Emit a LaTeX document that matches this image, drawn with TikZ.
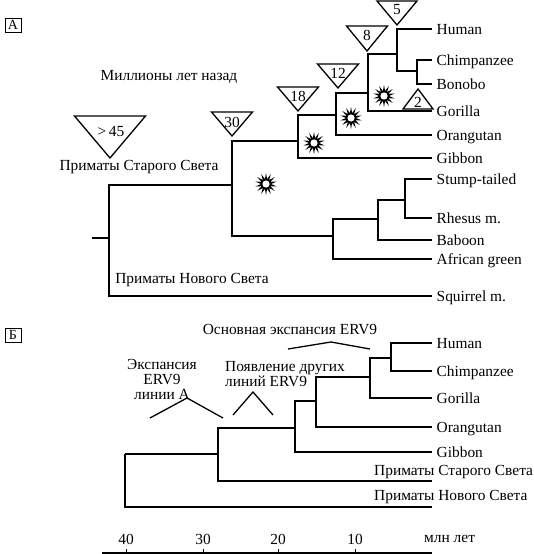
\documentclass[tikz,border=0pt]{standalone}
\usepackage{fontspec}
\setmainfont{Liberation Serif}
\usetikzlibrary{shapes.geometric,calc}

\begin{document}
\begin{tikzpicture}[
  x=1pt, y=-1pt,
  every node/.style={font=\fontsize{15.4}{16}\selectfont, inner sep=0pt},
  branch/.style={line width=1.6pt},
  tri/.style={line width=1.3pt, line join=miter},
  caret/.style={line width=1.3pt},
  leaf/.style={anchor=west, inner xsep=4.5pt, text height=11pt, text depth=0pt},
  panel/.style={draw, line width=0.6pt, minimum width=16pt, minimum height=14pt, font=\fontsize{14}{14}\selectfont},
  burst/.style={star, star points=14, star point ratio=2.2, minimum size=22pt, fill=black, inner sep=0pt,
    path picture={\fill[white] (path picture bounding box.center) circle (3.6pt);}},
  >=latex
]
\useasboundingbox (0,0) rectangle (533,554);

% Panel letters
\node[panel] (pA) at (13,25) {А};
\node[panel] (pB) at (13,335) {Б};

% Panel A: captions
\node (myr) at (169,77) {Миллионы лет назад};
\node (owA) at (139,167) {Приматы Старого Света};
\node (nwA) at (192,280) {Приматы Нового Света};

% Panel A: branch points
\coordinate (astub) at (92,238);
\coordinate (aroot) at (109,238);
\coordinate (a30) at (232,185);
\coordinate (a18) at (298,141);
\coordinate (a12) at (336,115);
\coordinate (a8) at (368,93);
\coordinate (a5) at (397,54);
\coordinate (a2) at (417,71);
\coordinate (acerc) at (333,236);
\coordinate (apap) at (378,219);
\coordinate (amac) at (405,200);

% Panel A: species
\node[leaf] (hum) at (432,29) {Human};
\node[leaf] (chi) at (432,60) {Chimpanzee};
\node[leaf] (bon) at (432,84) {Bonobo};
\node[leaf] (gor) at (432,111) {Gorilla};
\node[leaf] (ora) at (432,135) {Orangutan};
\node[leaf] (gib) at (432,158) {Gibbon};
\node[leaf] (stu) at (432,179) {Stump-tailed};
\node[leaf] (rhe) at (432,218) {Rhesus m.};
\node[leaf] (bab) at (432,240) {Baboon};
\node[leaf] (afr) at (432,259) {African green};
\node[leaf] (squ) at (432,296) {Squirrel m.};

% Panel A: branches
\draw[branch] (astub) -- (aroot);
\draw[branch] (aroot) |- (a30);
\draw[branch] (aroot) |- (squ);
\draw[branch] (a30) |- (a18);
\draw[branch] (a30) |- (acerc);
\draw[branch] (a18) |- (a12);
\draw[branch] (a18) |- (gib);
\draw[branch] (a12) |- (a8);
\draw[branch] (a12) |- (ora);
\draw[branch] (a8) |- (a5);
\draw[branch] (a8) |- (gor);
\draw[branch] (a5) |- (hum);
\draw[branch] (a5) |- (a2);
\draw[branch] (a2) |- (chi);
\draw[branch] (a2) |- (bon);
\draw[branch] (acerc) |- (apap);
\draw[branch] (acerc) |- (afr);
\draw[branch] (apap) |- (amac);
\draw[branch] (apap) |- (bab);
\draw[branch] (amac) |- (stu);
\draw[branch] (amac) |- (rhe);

% Panel A: age triangles
\coordinate (t45) at (110,158);
\draw[tri] (t45) -- ++(-35.5,-42) -- ++(71,0) -- cycle;
\node (t45n) at (111,132) {>\,45};
\coordinate (t30) at (232,136);
\draw[tri] (t30) -- ++(-20.5,-24) -- ++(41,0) -- cycle;
\node (t30n) at (232,122) {30};
\coordinate (t18) at (298,111);
\draw[tri] (t18) -- ++(-20.5,-24) -- ++(41,0) -- cycle;
\node (t18n) at (298,96) {18};
\coordinate (t12) at (338,88);
\draw[tri] (t12) -- ++(-20.5,-24) -- ++(41,0) -- cycle;
\node (t12n) at (338,73) {12};
\coordinate (t8) at (367,51);
\draw[tri] (t8) -- ++(-20.5,-25) -- ++(41,0) -- cycle;
\node (t8n) at (367,35) {8};
\coordinate (t5) at (397,25);
\draw[tri] (t5) -- ++(-20,-24) -- ++(40,0) -- cycle;
\node (t5n) at (397,10) {5};
\coordinate (t2) at (418,89);
\draw[tri] (t2) -- ++(-15,20) -- ++(30,0) -- cycle;
\node (t2n) at (418,102) {2};

% Panel A: expansion marks
\node[burst] (s1) at (266,184) {};
\node[burst] (s2) at (314,143) {};
\node[burst] (s3) at (351,118) {};
\node[burst] (s4) at (384,96) {};

% Panel B: captions
\node (mainexp) at (290,330) {Основная экспансия ERV9};
\node[align=center] (expA) at (162,379) {Экспансия\\[-1pt]ERV9\\[-1pt]линии А};
\node[align=left, anchor=west] (newl) at (225,374) {Появление других\\[-1pt]линий ERV9};
\draw[caret] (150,418) -- (187,398) -- (223,418);
\draw[caret] (233,415) -- (253,392) -- (273,415);
\draw[caret] (288,349) -- (331,342) -- (370,349);

% Panel B: branch points
\coordinate (broot) at (125,454);
\coordinate (b28) at (218,454);
\coordinate (b18) at (295,428);
\coordinate (b15) at (316,401);
\coordinate (b8) at (370,377);
\coordinate (b6) at (391,358);
\coordinate (bow) at (432,481);
\coordinate (bnw) at (432,507);

% Panel B: species
\node[leaf] (bhum) at (432,343) {Human};
\node[leaf] (bchi) at (432,371) {Chimpanzee};
\node[leaf] (bgor) at (432,398) {Gorilla};
\node[leaf] (bora) at (432,427) {Orangutan};
\node[leaf] (bgib) at (432,452) {Gibbon};
\node[anchor=west] (owB) at (374,472) {Приматы Старого Света};
\node[anchor=west] (nwB) at (374,497) {Приматы Нового Света};

% Panel B: branches
\draw[branch] (broot) |- (b28);
\draw[branch] (broot) |- (bnw);
\draw[branch] (b28) |- (b18);
\draw[branch] (b28) |- (bow);
\draw[branch] (b18) |- (b15);
\draw[branch] (b18) |- (bgib);
\draw[branch] (b15) |- (b8);
\draw[branch] (b15) |- (bora);
\draw[branch] (b8) |- (b6);
\draw[branch] (b8) |- (bgor);
\draw[branch] (b6) |- (bhum);
\draw[branch] (b6) |- (bchi);

% Time scale
\coordinate (axl) at (102,553);
\coordinate (axr) at (432,553);
\draw[branch] (axl) -- (axr);
\foreach \x/\v in {126/40,203/30,278/20,355/10}{
  \draw[line width=1pt] (\x,553) -- ++(0,-4);
  \node (tick\v) at (\x,539) {\v};
}
\node[anchor=west] (myrB) at (424,539) {млн лет};

\end{tikzpicture}
\end{document}
